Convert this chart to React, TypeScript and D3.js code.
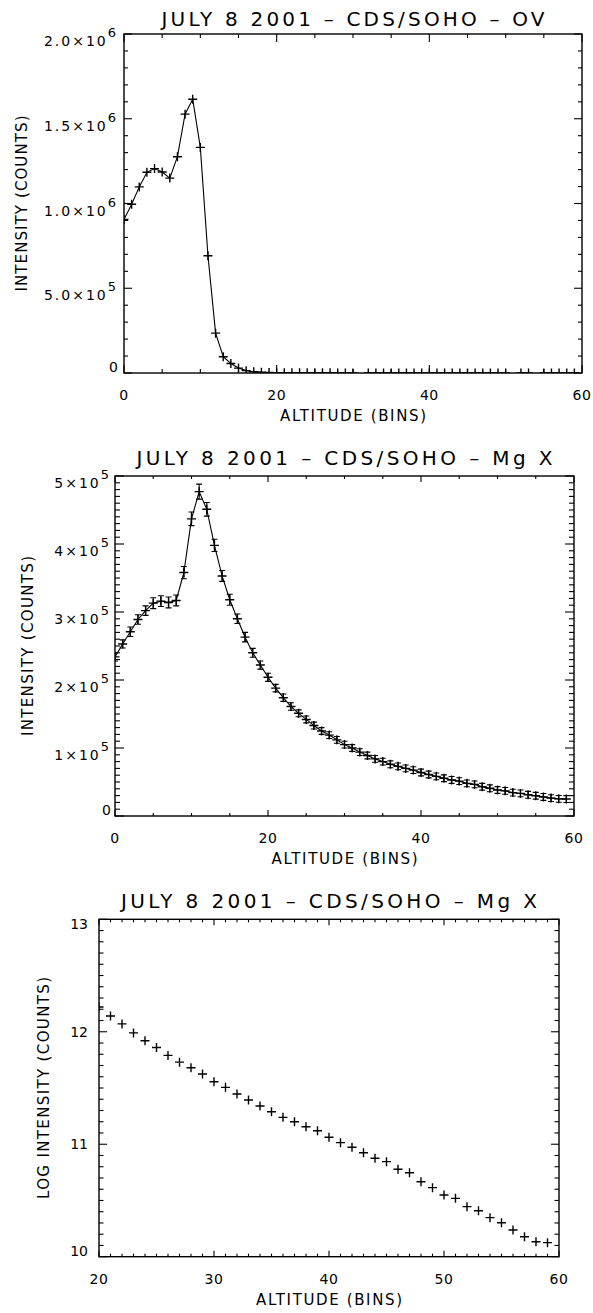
import React from "react";
import * as d3 from "d3";

// ---------- data ----------
const altitudeBins = [
  0, 1, 2, 3, 4, 5, 6, 7, 8, 9, 10, 11, 12, 13, 14, 15, 16, 17, 18, 19,
  20, 21, 22, 23, 24, 25, 26, 27, 28, 29, 30, 31, 32, 33, 34, 35, 36, 37, 38, 39,
  40, 41, 42, 43, 44, 45, 46, 47, 48, 49, 50, 51, 52, 53, 54, 55, 56, 57, 58, 59,
];

// O V intensity (counts); null = not plotted
const ovIntensity: (number | null)[] = [
  906000, 996000, 1098000, 1184000, 1206000, 1186000, 1150000, 1276000, 1527000, 1615000,
  1331000, 692000, 235000, 96000, 56000, 29000, 14000, 7000, 4200, 2600,
  1900, 1500, 1300, 1100, 1000, 900, 820, 760, 700, 650,
  600, null, 560, 540, 520, 500, 480, 470, 450, 440,
  430, 420, 410, 400, 390, 380, 370, 360, 350, 340,
  330, null, 320, 310, null, 300, 290, 280, 270, 260,
];

// Mg X intensity (counts)
const mgIntensity = [
  234000, 253000, 271000, 289000, 302000, 313000, 316000, 314000, 317000, 358000,
  437000, 477000, 451000, 398000, 353000, 318000, 290000, 263000, 240000, 222000,
  204000, 188000, 174000, 161000, 151000, 142000, 133000, 125000, 119000, 112000,
  105000, 100000, 94000, 89000, 84000, 80000, 76000, 73000, 70000, 67500,
  64000, 61000, 58300, 55500, 53000, 51300, 48000, 46500, 43000, 40700,
  38200, 37000, 34400, 33200, 31200, 29800, 28000, 26300, 25200, 24900,
];

// Mg X error bars (counts)
const mgError = [
  6000, 6000, 7000, 7000, 7000, 8000, 8000, 8000, 8000, 9000,
  10000, 11000, 10000, 9000, 8000, 8000, 7000, 7000, 6500, 6000,
  6000, 5500, 5500, 5500, 5000, 5000, 5000, 5000, 5000, 5000,
  5000, 5000, 5000, 5000, 5000, 5000, 5000, 5000, 5000, 5000,
  5000, 5000, 5000, 5000, 5000, 5000, 5000, 5000, 5000, 5000,
  5000, 5000, 5000, 5000, 5000, 5000, 5000, 5000, 5000, 5000,
];

const logBins = [
  20, 21, 22, 23, 24, 25, 26, 27, 28, 29, 30, 31, 32, 33, 34, 35, 36, 37, 38, 39,
  40, 41, 42, 43, 44, 45, 46, 47, 48, 49, 50, 51, 52, 53, 54, 55, 56, 57, 58, 59,
];

// ln(Mg X intensity)
const mgLogIntensity = [
  12.22, 12.14, 12.07, 11.99, 11.92, 11.86, 11.79, 11.73, 11.68, 11.625,
  11.556, 11.506, 11.447, 11.393, 11.34, 11.289, 11.239, 11.2, 11.156, 11.12,
  11.062, 11.014, 10.973, 10.924, 10.875, 10.845, 10.777, 10.747, 10.667, 10.614,
  10.549, 10.519, 10.445, 10.409, 10.347, 10.302, 10.237, 10.178, 10.133, 10.125,
];

// tick labels
const ovYTicks = [0, 5e5, 1e6, 1.5e6, 2e6];
const ovYTickLabels = [["0", ""], ["5.0×10", "5"], ["1.0×10", "6"], ["1.5×10", "6"], ["2.0×10", "6"]];
const mgYTicks = [0, 1e5, 2e5, 3e5, 4e5, 5e5];
const mgYTickLabels = [["0", ""], ["1×10", "5"], ["2×10", "5"], ["3×10", "5"], ["4×10", "5"], ["5×10", "5"]];
const logYTicks = [10, 11, 12, 13];
const logYTickLabels = [["10", ""], ["11", ""], ["12", ""], ["13", ""]];
const binXTicks = [0, 20, 40, 60];
const logXTicks = [20, 30, 40, 50, 60];

const titles = [
  "JULY 8 2001 – CDS/SOHO – OV",
  "JULY 8 2001 – CDS/SOHO – Mg X",
  "JULY 8 2001 – CDS/SOHO – Mg X",
];
const xTitle = "ALTITUDE (BINS)";
const yTitles = ["INTENSITY (COUNTS)", "INTENSITY (COUNTS)", "LOG INTENSITY (COUNTS)"];

// ---------- drawing ----------
const FONT = "'DejaVu Sans', 'Liberation Sans', Arial, sans-serif";

type Box = { l: number; r: number; t: number; b: number };

interface PanelProps {
  id: string;
  box: Box;
  xDomain: [number, number];
  yDomain: [number, number];
  xMajor: number[];
  xMinorStep: number;
  yMajor: number[];
  yMinorStep: number;
  yLabels: string[][];
  tl: { xM: number; xm: number; yM: number; ym: number };
  title: string;
  titleLen: number;
  titleDy: number;
  yTitle: string;
  yTitleX: number;
  yTitleLen: number;
  yLabelGap: number;
  render: (x: d3.ScaleLinear<number, number>, y: d3.ScaleLinear<number, number>) => React.ReactNode;
}

function minorTicks(domain: [number, number], step: number, majors: number[]) {
  const out: number[] = [];
  const n = Math.round((domain[1] - domain[0]) / step);
  for (let i = 0; i <= n; i++) {
    const v = domain[0] + i * step;
    if (!majors.some((m) => Math.abs(m - v) < step * 1e-3)) out.push(v);
  }
  return out;
}

function Panel(p: PanelProps) {
  const { box } = p;
  const x = d3.scaleLinear().domain(p.xDomain).range([box.l, box.r]);
  const y = d3.scaleLinear().domain(p.yDomain).range([box.b, box.t]);
  const xMin = minorTicks(p.xDomain, p.xMinorStep, p.xMajor);
  const yMin = minorTicks(p.yDomain, p.yMinorStep, p.yMajor);
  const stroke = "#000";
  const cx = (box.l + box.r) / 2;
  const cy = (box.t + box.b) / 2;
  return (
    <g>
      <defs>
        <clipPath id={p.id}>
          <rect x={box.l} y={box.t} width={box.r - box.l} height={box.b - box.t} />
        </clipPath>
      </defs>
      {/* ticks */}
      <g stroke={stroke} strokeWidth={1.1}>
        {p.xMajor.map((v) => (
          <g key={"xM" + v}>
            <line x1={x(v)} x2={x(v)} y1={box.b} y2={box.b - p.tl.xM} />
            <line x1={x(v)} x2={x(v)} y1={box.t} y2={box.t + p.tl.xM} />
          </g>
        ))}
        {xMin.map((v) => (
          <g key={"xm" + v}>
            <line x1={x(v)} x2={x(v)} y1={box.b} y2={box.b - p.tl.xm} />
            <line x1={x(v)} x2={x(v)} y1={box.t} y2={box.t + p.tl.xm} />
          </g>
        ))}
        {p.yMajor.map((v) => (
          <g key={"yM" + v}>
            <line x1={box.l} x2={box.l + p.tl.yM} y1={y(v)} y2={y(v)} />
            <line x1={box.r} x2={box.r - p.tl.yM} y1={y(v)} y2={y(v)} />
          </g>
        ))}
        {yMin.map((v) => (
          <g key={"ym" + v}>
            <line x1={box.l} x2={box.l + p.tl.ym} y1={y(v)} y2={y(v)} />
            <line x1={box.r} x2={box.r - p.tl.ym} y1={y(v)} y2={y(v)} />
          </g>
        ))}
      </g>
      {/* data */}
      <g clipPath={`url(#${p.id})`}>{p.render(x, y)}</g>
      {/* frame */}
      <rect x={box.l} y={box.t} width={box.r - box.l} height={box.b - box.t} fill="none" stroke={stroke} strokeWidth={1.4} />
      {/* x tick labels */}
      <g fontFamily={FONT} fontSize={14} fill="#000" textAnchor="middle">
        {p.xMajor.map((v) => (
          <text key={"xl" + v} x={x(v)} y={box.b + 27} letterSpacing={0.5}>
            {String(v)}
          </text>
        ))}
      </g>
      {/* y tick labels */}
      <g fontFamily={FONT} fontSize={14} fill="#000" textAnchor="end">
        {p.yMajor.map((v, i) => {
          const [m, e] = p.yLabels[i];
          let by: number;
          if (e) by = y(v) + 12;
          else if (i === 0) by = y(v) - 1;
          else if (i === p.yMajor.length - 1) by = y(v) + 10;
          else by = y(v) + 5;
          return (
            <text key={"yl" + v} x={box.l - p.yLabelGap} y={by} letterSpacing={e ? 2 : 0}>
              {m}
              {e ? (
                <tspan dy={-9} fontSize={13}>
                  {e}
                </tspan>
              ) : null}
            </text>
          );
        })}
      </g>
      {/* titles */}
      <text
        x={cx}
        y={box.t - p.titleDy}
        textAnchor="middle"
        fontFamily={FONT}
        fontSize={20}
        textLength={p.titleLen}
        lengthAdjust="spacing"
      >
        {p.title}
      </text>
      <text
        x={cx}
        y={box.b + 48}
        textAnchor="middle"
        fontFamily={FONT}
        fontSize={15}
        textLength={146}
        lengthAdjust="spacing"
      >
        {xTitle}
      </text>
      <text
        transform={`translate(${p.yTitleX},${cy}) rotate(-90)`}
        textAnchor="middle"
        fontFamily={FONT}
        fontSize={15}
        textLength={p.yTitleLen}
        lengthAdjust="spacing"
      >
        {p.yTitle}
      </text>
    </g>
  );
}

const plusPath = (px: number, py: number, h: number) =>
  `M${px - h},${py}H${px + h}M${px},${py - h}V${py + h}`;

export default function App() {
  return (
    <svg
      width={593}
      height={1313}
      viewBox="0 0 593 1313"
      style={{ position: "absolute", left: 0, top: 0, background: "#fff" }}
    >
      <rect x={0} y={0} width={593} height={1313} fill="#fff" />
      {/* Panel 1: O V */}
      <Panel
        id="clip1"
        box={{ l: 124, r: 582, t: 34, b: 373 }}
        xDomain={[0, 60]}
        yDomain={[0, 2e6]}
        xMajor={binXTicks}
        xMinorStep={5}
        yMajor={ovYTicks}
        yMinorStep={1e5}
        yLabels={ovYTickLabels}
        tl={{ xM: 8, xm: 4, yM: 8, ym: 4 }}
        title={titles[0]}
        titleLen={383}
        titleDy={8}
        yTitle={yTitles[0]}
        yTitleX={27}
        yTitleLen={176}
        yLabelGap={6}
        render={(x, y) => {
          const pts = altitudeBins.map((b, i) => ({ b, v: ovIntensity[i] }));
          const line = d3
            .line<{ b: number; v: number | null }>()
            .defined((d) => d.v !== null)
            .x((d) => x(d.b))
            .y((d) => y(d.v as number));
          return (
            <g>
              <path d={line(pts) || ""} fill="none" stroke="#000" strokeWidth={1.1} />
              {pts
                .filter((d) => d.v !== null)
                .map((d) => (
                  <path key={d.b} d={plusPath(x(d.b), y(d.v as number), 4.5)} stroke="#000" strokeWidth={1.4} fill="none" />
                ))}
            </g>
          );
        }}
      />
      {/* Panel 2: Mg X */}
      <Panel
        id="clip2"
        box={{ l: 115, r: 574, t: 476, b: 816 }}
        xDomain={[0, 60]}
        yDomain={[0, 5e5]}
        xMajor={binXTicks}
        xMinorStep={5}
        yMajor={mgYTicks}
        yMinorStep={1e4}
        yLabels={mgYTickLabels}
        tl={{ xM: 6, xm: 3, yM: 9, ym: 5 }}
        title={titles[1]}
        titleLen={416}
        titleDy={11}
        yTitle={yTitles[1]}
        yTitleX={33}
        yTitleLen={180}
        yLabelGap={4}
        render={(x, y) => {
          const pts = altitudeBins.map((b, i) => ({ b, v: mgIntensity[i], e: mgError[i] }));
          const line = d3
            .line<{ b: number; v: number }>()
            .x((d) => x(d.b))
            .y((d) => y(d.v));
          const cap = 3;
          return (
            <g>
              <path d={line(pts) || ""} fill="none" stroke="#000" strokeWidth={1.1} />
              {pts.map((d) => {
                const px = x(d.b);
                const y1 = y(d.v - d.e);
                const y2 = y(d.v + d.e);
                return (
                  <path
                    key={"e" + d.b}
                    d={`M${px},${y1}V${y2}M${px - cap},${y1}H${px + cap}M${px - cap},${y2}H${px + cap}`}
                    stroke="#000"
                    strokeWidth={1.1}
                    fill="none"
                  />
                );
              })}
              {pts.map((d) => (
                <path key={d.b} d={plusPath(x(d.b), y(d.v), 4.5)} stroke="#000" strokeWidth={1.4} fill="none" />
              ))}
            </g>
          );
        }}
      />
      {/* Panel 3: log Mg X */}
      <Panel
        id="clip3"
        box={{ l: 99, r: 559, t: 919.3, b: 1256.7 }}
        xDomain={[20, 60]}
        yDomain={[10, 13]}
        xMajor={logXTicks}
        xMinorStep={1}
        yMajor={logYTicks}
        yMinorStep={0.1}
        yLabels={logYTickLabels}
        tl={{ xM: 6, xm: 3, yM: 8, ym: 4.5 }}
        title={titles[2]}
        titleLen={416}
        titleDy={11}
        yTitle={yTitles[2]}
        yTitleX={49}
        yTitleLen={222}
        yLabelGap={11}
        render={(x, y) => (
          <g>
            {logBins.map((b, i) => (
              <path key={b} d={plusPath(x(b), y(mgLogIntensity[i]), 4.5)} stroke="#000" strokeWidth={1.4} fill="none" />
            ))}
          </g>
        )}
      />
    </svg>
  );
}
